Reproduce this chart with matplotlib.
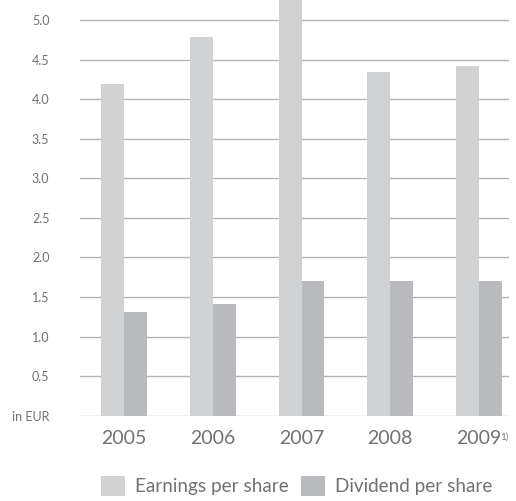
import matplotlib
matplotlib.use("Agg")
import matplotlib.pyplot as plt
from matplotlib.patches import Patch
import numpy as np

years = ["2005", "2006", "2007", "2008", "2009"]
year_note = "1)"
eps = [4.19, 4.79, 5.40, 4.34, 4.42]
dividend = [1.31, 1.41, 1.70, 1.70, 1.70]
yticks = [0.0, 0.5, 1.0, 1.5, 2.0, 2.5, 3.0, 3.5, 4.0, 4.5, 5.0]
ytick_labels = ["in EUR", "0.5", "1.0", "1.5", "2.0", "2.5", "3.0", "3.5", "4.0", "4.5", "5.0"]

plt.rcParams['font.family'] = ['Lato', 'DejaVu Sans']
text_color = "#707174"
c_eps = "#d1d2d4"
c_div = "#b9babd"

W, H = 516, 501
fig = plt.figure(figsize=(W / 100, H / 100), dpi=100)
ax = fig.add_axes([80 / W, 85.3 / H, 429 / W, 1 - 85.3 / H])

x = np.arange(len(years))
bw = 0.259
ax.bar(x - bw / 2, eps, width=bw, color=c_eps, zorder=3, label="Earnings per share")
ax.bar(x + bw / 2, dividend, width=bw, color=c_div, zorder=3, label="Dividend per share")

ax.set_xlim(-0.496, 4.338)
ax.set_ylim(0, 5.253)
ax.set_yticks(yticks)
ax.set_yticklabels(ytick_labels, fontsize=9, color=text_color)
ax.set_xticks(x)
ax.set_xticklabels(years, fontsize=14, color=text_color)
ax.tick_params(axis='both', length=0)
ax.tick_params(axis='y', pad=22)
ax.tick_params(axis='x', pad=10)

# footnote marker on last year label
fig.canvas.draw()
lbl = ax.get_xticklabels()[-1]
bb = lbl.get_window_extent()
fig.text((bb.x1 - 1.5) / W, (bb.y1 - 2.5) / H, year_note, fontsize=7, color=text_color,
         ha='left', va='top')

ax.grid(axis='y', color="#b3b3b3", linewidth=1.0, zorder=0)
ax.grid(axis='x', visible=False)
for s in ax.spines.values():
    s.set_visible(False)

handles = [Patch(facecolor=c_eps, label="Earnings per share"),
           Patch(facecolor=c_div, label="Dividend per share")]
leg = fig.legend(handles=handles, loc="lower left", bbox_to_anchor=(93 / W, -3 / H),
                 ncol=2, frameon=False, handlelength=1.3, handleheight=1.3,
                 handletextpad=0.5, columnspacing=0.65, borderaxespad=0,
                 prop={'size': 13.6})
for t in leg.get_texts():
    t.set_color(text_color)

fig.savefig("out.png", dpi=100)
